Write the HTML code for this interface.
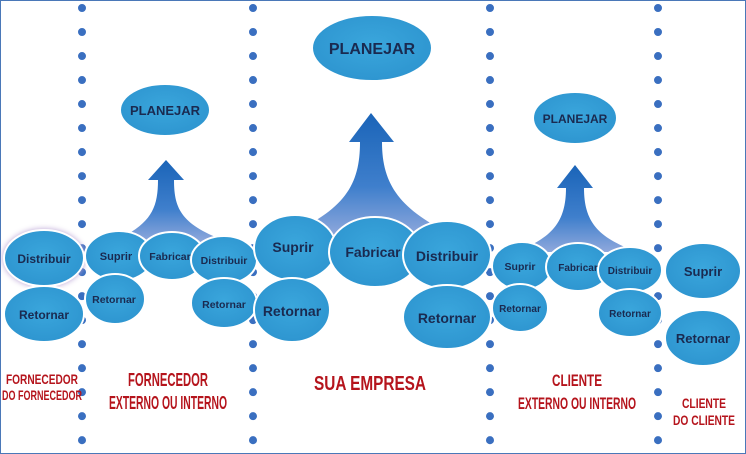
<!DOCTYPE html>
<html><head><meta charset="utf-8"><style>
html,body{margin:0;padding:0;background:#fff;}
svg{display:block;font-family:"Liberation Sans",sans-serif;}
.n{font-weight:bold;fill:#1a2a50;text-anchor:middle;}
.r{font-weight:bold;fill:#b5141c;text-anchor:middle;}
</style></head><body>
<svg width="746" height="454" viewBox="0 0 746 454" xmlns="http://www.w3.org/2000/svg">
<defs>
<linearGradient id="ar" x1="0" y1="0" x2="0" y2="1">
<stop offset="0" stop-color="#1a64b8"/><stop offset="0.6" stop-color="#3f7fcc"/><stop offset="1" stop-color="#8fa8dc"/></linearGradient>
<radialGradient id="el" cx="0.5" cy="0.45" r="0.6">
<stop offset="0" stop-color="#3aa6dc"/><stop offset="1" stop-color="#2d94cf"/></radialGradient>
</defs>
<rect x="0.5" y="0.5" width="745" height="453" fill="#fff" stroke="#4a78b8"/>
<g stroke="#3a6fc0" stroke-width="8" stroke-linecap="round" stroke-dasharray="0.01 24">
<line x1="82" y1="8" x2="82" y2="454"/>
<line x1="253" y1="8" x2="253" y2="454"/>
<line x1="490" y1="8" x2="490" y2="454"/>
<line x1="658" y1="8" x2="658" y2="454"/>
</g>
<!-- arrows -->
<path d="M112,242 C150,225 158,210 158,180 L148,180 L166,160 L184,180 L174,180 C174,210 182,225 228,242 Z" fill="url(#ar)"/>
<path d="M285,236 C345,210 360,185 360,142 L349,142 L371,113 L394,142 L382,142 C382,185 400,210 455,236 Z" fill="url(#ar)"/>
<path d="M515,252 C552,238 566,222 566,188 L557,188 L575,165 L593,188 L584,188 C584,222 598,238 638,252 Z" fill="url(#ar)"/>
<g fill="url(#el)" stroke="#fff" stroke-width="2">
<ellipse cx="44" cy="258" rx="40" ry="28" style="filter:drop-shadow(0 0 3px #b9a2d4)"/>
<ellipse cx="44" cy="314" rx="40" ry="28"/>
<ellipse cx="165" cy="110" rx="45" ry="26"/>
<ellipse cx="119" cy="256" rx="34" ry="25"/>
<ellipse cx="172" cy="256" rx="33" ry="24"/>
<ellipse cx="224" cy="260" rx="33" ry="24"/>
<ellipse cx="115" cy="299" rx="30" ry="25"/>
<ellipse cx="224" cy="303" rx="33" ry="25"/>
<ellipse cx="372" cy="48" rx="60" ry="33"/>
<ellipse cx="295" cy="248" rx="41" ry="33"/>
<ellipse cx="375" cy="252" rx="46" ry="35"/>
<ellipse cx="447" cy="255" rx="44" ry="34"/>
<ellipse cx="292" cy="310" rx="38" ry="32"/>
<ellipse cx="447" cy="317" rx="44" ry="32"/>
<ellipse cx="575" cy="118" rx="42" ry="26"/>
<ellipse cx="522" cy="266" rx="30" ry="24"/>
<ellipse cx="578" cy="267" rx="32" ry="24"/>
<ellipse cx="630" cy="270" rx="32" ry="23"/>
<ellipse cx="520" cy="308" rx="28" ry="24"/>
<ellipse cx="630" cy="313" rx="32" ry="24"/>
<ellipse cx="703" cy="271" rx="38" ry="28"/>
<ellipse cx="703" cy="338" rx="38" ry="28"/>
</g>
<g class="n">
<text x="44" y="263" font-size="12">Distribuir</text>
<text x="44" y="319" font-size="12">Retornar</text>
<text x="165" y="115" font-size="13">PLANEJAR</text>
<text x="116" y="260" font-size="11">Suprir</text>
<text x="170" y="260" font-size="10.5">Fabricar</text>
<text x="224" y="264" font-size="10.5">Distribuir</text>
<text x="114" y="303" font-size="10.5">Retornar</text>
<text x="224" y="308" font-size="10.5">Retornar</text>
<text x="372" y="54" font-size="16">PLANEJAR</text>
<text x="293" y="252" font-size="14">Suprir</text>
<text x="373" y="257" font-size="14">Fabricar</text>
<text x="447" y="261" font-size="14">Distribuir</text>
<text x="292" y="316" font-size="14">Retornar</text>
<text x="447" y="323" font-size="14">Retornar</text>
<text x="575" y="123" font-size="12">PLANEJAR</text>
<text x="520" y="270" font-size="10.5">Suprir</text>
<text x="578" y="271" font-size="10">Fabricar</text>
<text x="630" y="274" font-size="10">Distribuir</text>
<text x="520" y="312" font-size="10">Retornar</text>
<text x="630" y="317" font-size="10">Retornar</text>
<text x="703" y="276" font-size="13">Suprir</text>
<text x="703" y="343" font-size="13">Retornar</text>
</g>
<g class="r">
<text x="42" y="384" font-size="14" textLength="72" lengthAdjust="spacingAndGlyphs">FORNECEDOR</text>
<text x="42" y="400" font-size="14" textLength="80" lengthAdjust="spacingAndGlyphs">DO FORNECEDOR</text>
<text x="168" y="386" font-size="18" textLength="80" lengthAdjust="spacingAndGlyphs">FORNECEDOR</text>
<text x="168" y="409" font-size="18" textLength="118" lengthAdjust="spacingAndGlyphs">EXTERNO OU INTERNO</text>
<text x="370" y="390" font-size="20" textLength="112" lengthAdjust="spacingAndGlyphs">SUA EMPRESA</text>
<text x="577" y="386" font-size="17" textLength="50" lengthAdjust="spacingAndGlyphs">CLIENTE</text>
<text x="577" y="409" font-size="17" textLength="118" lengthAdjust="spacingAndGlyphs">EXTERNO OU INTERNO</text>
<text x="704" y="408" font-size="14" textLength="44" lengthAdjust="spacingAndGlyphs">CLIENTE</text>
<text x="704" y="425" font-size="14" textLength="62" lengthAdjust="spacingAndGlyphs">DO CLIENTE</text>
</g>
</svg>
</body></html>
